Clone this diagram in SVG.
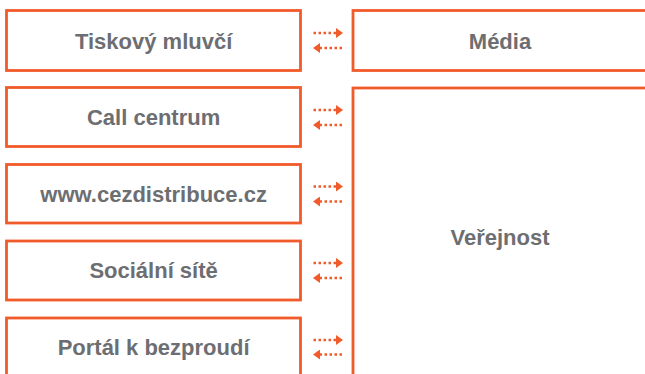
<svg xmlns="http://www.w3.org/2000/svg" width="645" height="374" viewBox="0 0 645 374">
<style>
.box{fill:#fff;stroke:#f15a29;stroke-width:2.8}
.lbl{font-family:"Liberation Sans",Arial,sans-serif;font-weight:bold;font-size:22px;fill:#6d6e71;text-anchor:middle}
.dot{stroke:#f15a29;stroke-width:2.5;stroke-dasharray:2.5 2.5;fill:none}
</style>
<defs>
<marker id="ah" markerUnits="userSpaceOnUse" markerWidth="8" markerHeight="10" refX="0" refY="5" orient="auto">
<path d="M0,0 L7,5 L0,10 Z" fill="#f15a29"/>
</marker>
</defs>
<rect width="645" height="374" fill="#fff"/>
<g id="tiskovy"><rect class="box" x="6.5" y="10.5" width="294" height="60"/><text class="lbl" x="153.6" y="48.5">Tiskový mluvčí</text></g>
<g id="callcentrum"><rect class="box" x="6.5" y="87.5" width="294" height="59"/><text class="lbl" x="153.6" y="125">Call centrum</text></g>
<g id="web"><rect class="box" x="6.5" y="164.5" width="294" height="58.5"/><text class="lbl" x="153.6" y="201.5">www.cezdistribuce.cz</text></g>
<g id="socialni"><rect class="box" x="6.5" y="241" width="294" height="59"/><text class="lbl" x="153.6" y="278">Sociální sítě</text></g>
<g id="portal"><rect class="box" x="6.5" y="318" width="294" height="70"/><text class="lbl" x="153.6" y="355">Portál k bezproudí</text></g>
<g id="media"><rect class="box" x="353" y="10.5" width="294" height="60"/><text class="lbl" x="500" y="48.5">Média</text></g>
<g id="verejnost"><rect class="box" x="353" y="88" width="294" height="300"/><text class="lbl" x="500" y="244.5">Veřejnost</text></g>
<g id="connectors">
<path class="dot" d="M313.5,33 H336" marker-end="url(#ah)"/>
<path class="dot" d="M342,48 H320" marker-end="url(#ah)"/>
<path class="dot" d="M313.5,110 H336" marker-end="url(#ah)"/>
<path class="dot" d="M342,125 H320" marker-end="url(#ah)"/>
<path class="dot" d="M313.5,186.5 H336" marker-end="url(#ah)"/>
<path class="dot" d="M342,201.5 H320" marker-end="url(#ah)"/>
<path class="dot" d="M313.5,263 H336" marker-end="url(#ah)"/>
<path class="dot" d="M342,278 H320" marker-end="url(#ah)"/>
<path class="dot" d="M313.5,340 H336" marker-end="url(#ah)"/>
<path class="dot" d="M342,354.5 H320" marker-end="url(#ah)"/>
</g>
</svg>
